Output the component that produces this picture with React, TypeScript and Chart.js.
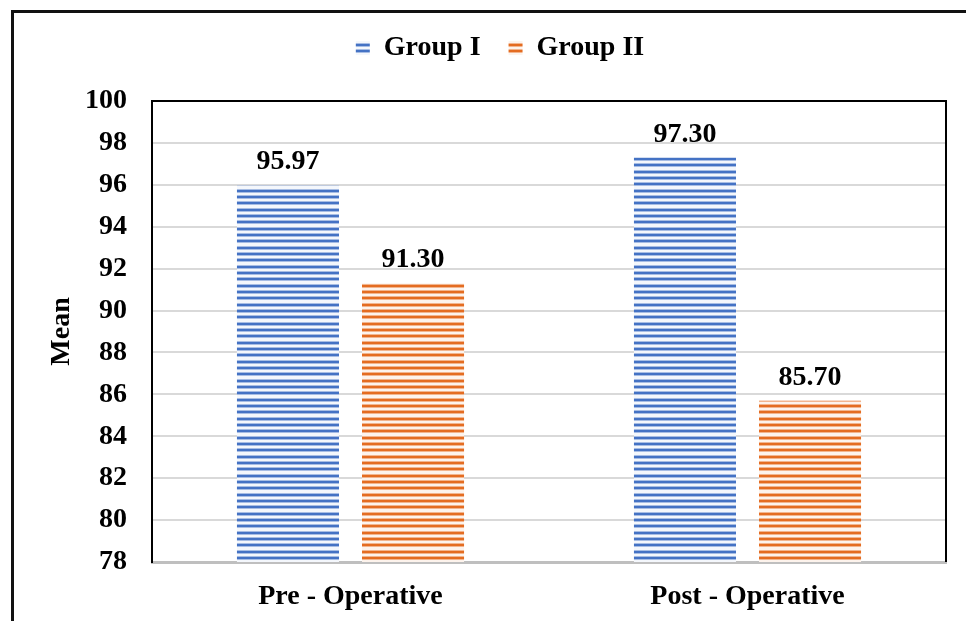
import { useEffect, useRef } from "react";
import { Chart, registerables } from "chart.js";

Chart.register(...registerables);

const categories = ["Pre - Operative", "Post - Operative"];
const seriesNames = ["Group I", "Group II"];
const group1Values = [95.97, 97.3];
const group2Values = [91.3, 85.7];
const yMin = 78;
const yMax = 100;
const yStep = 2;
const yTitle = "Mean";

const FONT = "'Liberation Serif', 'Times New Roman', serif";

function makeStripes(dark: string, mid: string, light: string): CanvasPattern | string {
  const c = document.createElement("canvas");
  const rows = [
    dark, dark, mid, light, light, mid,
    dark, dark, mid, light, light, mid,
    dark, dark, mid, light, light, light, mid,
  ];
  c.width = 4;
  c.height = rows.length;
  const g = c.getContext("2d");
  if (!g) return dark;
  rows.forEach((col, i) => {
    g.fillStyle = col;
    g.fillRect(0, i, 4, 1);
  });
  const p = g.createPattern(c, "repeat");
  return p || dark;
}

const valueLabels = {
  id: "valueLabels",
  afterDatasetsDraw(chart: any) {
    const ctx = chart.ctx;
    ctx.save();
    ctx.font = `bold 28px ${FONT}`;
    ctx.fillStyle = "#000";
    ctx.textAlign = "center";
    ctx.textBaseline = "alphabetic";
    chart.data.datasets.forEach((ds: any, di: number) => {
      const meta = chart.getDatasetMeta(di);
      meta.data.forEach((el: any, i: number) => {
        const v = ds.data[i] as number;
        ctx.fillText(v.toFixed(2), el.x, el.y - 16);
      });
    });
    ctx.restore();
  },
};

const plotFrame = {
  id: "plotFrame",
  afterLayout(chart: any) {
    if (chart.legend) {
      chart.legend.left += 27;
      chart.legend.right += 27;
    }
  },
  afterDraw(chart: any) {
    const { ctx, chartArea } = chart;
    ctx.save();
    ctx.strokeStyle = "#000";
    ctx.lineWidth = 2;
    ctx.beginPath();
    ctx.moveTo(chartArea.left, chartArea.top);
    ctx.lineTo(chartArea.right, chartArea.top);
    ctx.lineTo(chartArea.right, chartArea.bottom);
    ctx.stroke();
    ctx.restore();
  },
};

export default function App() {
  const ref = useRef<HTMLCanvasElement | null>(null);

  useEffect(() => {
    if (!ref.current) return;
    const blue = makeStripes("#4472C4", "#a7bde4", "#f4f7fc");
    const orange = makeStripes("#E46C21", "#f2b58e", "#fdf3ec");
    const chart = new Chart(ref.current, {
      type: "bar",
      data: {
        labels: categories,
        datasets: [
          { label: seriesNames[0], data: group1Values, backgroundColor: blue as any, borderWidth: 0 },
          { label: seriesNames[1], data: group2Values, backgroundColor: orange as any, borderWidth: 0 },
        ],
      },
      options: {
        responsive: false,
        animation: false,
        layout: { padding: { top: 6, left: 0, right: 20, bottom: 0 } },
        datasets: {
          bar: { categoryPercentage: 0.63, barPercentage: 0.816 },
        },
        plugins: {
          legend: {
            display: true,
            position: "top",
            labels: {
              boxWidth: 14,
              boxHeight: 14,
              padding: 28,
              color: "#000",
              font: { family: FONT, size: 28, weight: "bold" },
            },
          },
          tooltip: { enabled: false },
        },
        scales: {
          x: {
            grid: { display: false, drawTicks: false },
            border: { display: true, color: "#bfbfbf", width: 3 },
            ticks: {
              color: "#000",
              padding: 18,
              font: { family: FONT, size: 28, weight: "bold" },
            },
            afterFit: (s: any) => {
              s.height = 59;
            },
          },
          xTop: {
            type: "category",
            position: "top",
            display: true,
            grid: { display: false, drawTicks: false },
            border: { display: false },
            ticks: { display: false },
            afterFit: (s: any) => {
              s.height = 29;
            },
          },
          y: {
            min: yMin,
            max: yMax,
            ticks: {
              stepSize: yStep,
              color: "#000",
              padding: 25,
              font: { family: FONT, size: 28, weight: "bold" },
            },
            grid: { color: "#d9d9d9", lineWidth: 2, drawTicks: false },
            border: { display: true, color: "#000", width: 2 },
            title: {
              display: true,
              text: yTitle,
              color: "#000",
              padding: { top: 45, bottom: 0 },
              font: { family: FONT, size: 28, weight: "bold" },
            },
            afterFit: (s: any) => {
              s.width = 152;
            },
          },
        },
      } as any,
      plugins: [valueLabels, plotFrame],
    });
    return () => chart.destroy();
  }, []);

  return (
    <div style={{ position: "fixed", left: 0, top: 0, width: 966, height: 621, overflow: "hidden", background: "#fff" }}>
      <div
        style={{
          position: "absolute",
          left: 11,
          top: 10,
          width: 2000,
          height: 2000,
          borderLeft: "3px solid #111",
          borderTop: "3px solid #111",
        }}
      />
      <canvas ref={ref} width={966} height={621} style={{ position: "absolute", left: 0, top: 0, width: 966, height: 621 }} />
    </div>
  );
}
